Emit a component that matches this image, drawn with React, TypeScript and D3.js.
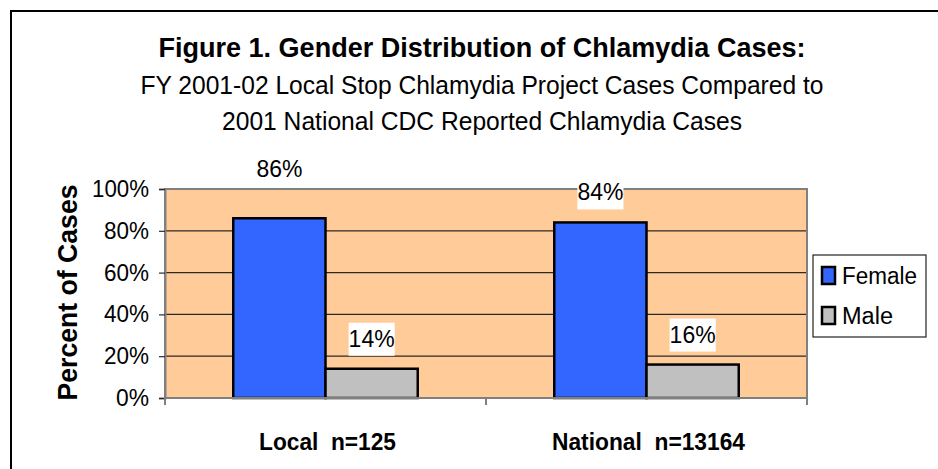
import React, { useRef, useEffect } from 'react';
import * as d3 from "d3";

const width = 938;
const height = 469;
const margin = ({top: 189, right: 131, bottom: 71, left: 165});
const font = "'Liberation Sans', Arial, sans-serif";

// chart data
const categories = ["Local  n=125", "National  n=13164"];
const seriesNames = ["Female", "Male"];
const female = [0.86, 0.84];
const male = [0.14, 0.16];
const yTicks = [0, 0.2, 0.4, 0.6, 0.8, 1];
const title = "Figure 1. Gender Distribution of Chlamydia Cases:";
const subtitle = [
    "FY 2001-02 Local Stop Chlamydia Project Cases Compared to",
    "2001 National CDC Reported Chlamydia Cases"
];
const yLabel = "Percent of Cases";

const colors = ["#3366ff", "#c0c0c0"];
// the first data label was dragged up in the original chart
const labelLift = [[19, 0], [0, 0]];
// the original text is set a little condensed: squeeze to these widths
const subtitleWidths = [683, 520];
const categoryWidths = [137, 193];

export default function App() {
    const d3Container = useRef(null);

    useEffect(() => {
        if (!d3Container.current) return;
        const svg = d3.select(d3Container.current);
        svg.selectAll("*").remove();

        const values = [female, male];
        const data = categories.map((c, i) => ({
            category: c,
            bars: seriesNames.map((s, j) => ({series: s, value: values[j][i], j}))
        }));

        const x0 = d3.scaleBand()
            .domain(categories)
            .range([margin.left, width - margin.right])
            .paddingInner(0)
            .paddingOuter(0);

        const x1 = d3.scaleBand()
            .domain(seriesNames)
            .range([0, x0.bandwidth()])
            .paddingInner(0)
            .paddingOuter(0.74);

        const y = d3.scaleLinear()
            .domain([0, 1])
            .range([height - margin.bottom, margin.top]);

        const plotL = margin.left, plotR = width - margin.right;
        const plotT = margin.top, plotB = height - margin.bottom;

        svg.append("rect")
            .attr("width", width).attr("height", height)
            .attr("fill", "#fff");

        // outer chart border (runs off the right/bottom of the image)
        svg.append("rect")
            .attr("x", 11).attr("y", 11)
            .attr("width", width + 20).attr("height", height + 20)
            .attr("fill", "none")
            .attr("stroke", "#000")
            .attr("stroke-width", 2);

        // titles
        svg.append("text")
            .attr("x", 482).attr("y", 57)
            .attr("text-anchor", "middle")
            .attr("font-family", font)
            .attr("font-weight", "bold")
            .attr("font-size", 28.5)
            .attr("textLength", 647)
            .attr("lengthAdjust", "spacingAndGlyphs")
            .text(title);

        svg.selectAll(".sub")
            .data(subtitle)
            .join("text")
            .attr("class", "sub")
            .attr("x", 482)
            .attr("y", (d, i) => 94 + i * 36)
            .attr("text-anchor", "middle")
            .attr("font-family", font)
            .attr("font-size", 26.5)
            .attr("textLength", (d, i) => subtitleWidths[i])
            .attr("lengthAdjust", "spacingAndGlyphs")
            .text(d => d);

        // plot area
        svg.append("rect")
            .attr("x", plotL).attr("y", plotT)
            .attr("width", plotR - plotL).attr("height", plotB - plotT)
            .attr("fill", "#ffcc99");

        svg.append("g")
            .selectAll("line")
            .data(yTicks.filter(t => t > 0 && t < 1))
            .join("line")
            .attr("x1", plotL).attr("x2", plotR)
            .attr("y1", d => y(d)).attr("y2", d => y(d))
            .attr("stroke", "#2a2a2a")
            .attr("stroke-width", 1.2);

        svg.append("path")
            .attr("d", `M${plotL},${plotB}V${plotT}H${plotR}V${plotB}`)
            .attr("fill", "none")
            .attr("stroke", "#808080")
            .attr("stroke-width", 2);

        // y axis
        const yAxis = g => g
            .attr("transform", `translate(${plotL},0)`)
            .call(d3.axisLeft(y).tickValues(yTicks).tickFormat(d3.format(".0%")).tickSize(6).tickPadding(10))
            .call(g => g.select(".domain").attr("stroke", "#808080").attr("stroke-width", 2))
            .call(g => g.selectAll(".tick line").attr("stroke", "#2a2a2a").attr("stroke-width", 1.2))
            .call(g => g.selectAll(".tick text")
                .attr("fill", "#000")
                .attr("font-family", font)
                .attr("font-size", 23.5)
                .attr("textLength", d => d === 1 ? 57 : d === 0 ? 33 : 45)
                .attr("lengthAdjust", "spacingAndGlyphs"));
        svg.append("g").call(yAxis);

        svg.append("text")
            .attr("transform", `translate(77,${(plotT + plotB) / 2 - 1}) rotate(-90)`)
            .attr("text-anchor", "middle")
            .attr("font-family", font)
            .attr("font-weight", "bold")
            .attr("font-size", 27)
            .attr("textLength", 216)
            .attr("lengthAdjust", "spacingAndGlyphs")
            .text(yLabel);

        // bars
        const groups = svg.append("g")
            .selectAll("g")
            .data(data)
            .join("g")
            .attr("transform", d => `translate(${x0(d.category)},0)`);

        groups.selectAll("rect")
            .data(d => d.bars)
            .join("rect")
            .attr("x", d => x1(d.series))
            .attr("y", d => y(d.value))
            .attr("width", x1.bandwidth())
            .attr("height", d => y(0) - y(d.value))
            .attr("fill", d => colors[d.j])
            .attr("stroke", "#000")
            .attr("stroke-width", 2.5);

        // x axis
        svg.append("line")
            .attr("x1", plotL).attr("x2", plotR)
            .attr("y1", plotB).attr("y2", plotB)
            .attr("stroke", "#808080")
            .attr("stroke-width", 2);

        svg.append("g")
            .selectAll("line")
            .data([...categories.map(c => x0(c)), plotR])
            .join("line")
            .attr("x1", d => d).attr("x2", d => d)
            .attr("y1", plotB).attr("y2", plotB + 7)
            .attr("stroke", "#808080")
            .attr("stroke-width", 2);

        svg.append("g")
            .selectAll("text")
            .data(categories)
            .join("text")
            .attr("x", d => x0(d) + x0.bandwidth() / 2 + 2)
            .attr("y", 450)
            .attr("text-anchor", "middle")
            .attr("font-family", font)
            .attr("font-weight", "bold")
            .attr("font-size", 24)
            .attr("textLength", (d, i) => categoryWidths[i])
            .attr("lengthAdjust", "spacingAndGlyphs")
            .style("white-space", "pre")
            .text(d => d);

        // data labels with white boxes
        data.forEach((d, i) => {
            d.bars.forEach(b => {
                const cx = x0(d.category) + x1(b.series) + x1.bandwidth() / 2;
                const by = y(b.value) - 22 - labelLift[i][b.j];
                const lg = svg.append("g");
                const box = lg.append("rect").attr("fill", "#fff");
                const t = lg.append("text")
                    .attr("x", cx).attr("y", by)
                    .attr("text-anchor", "middle")
                    .attr("font-family", font)
                    .attr("font-size", 23.5)
                    .attr("textLength", 46)
                    .attr("lengthAdjust", "spacingAndGlyphs")
                    .text(d3.format(".0%")(b.value));
                const bb = t.node().getBBox();
                box.attr("x", bb.x).attr("y", by - 24)
                    .attr("width", bb.width).attr("height", 33);
            });
        });

        // legend
        const legend = svg.append("g");
        legend.append("rect")
            .attr("x", 813).attr("y", 255)
            .attr("width", 113).attr("height", 82)
            .attr("fill", "#fff")
            .attr("stroke", "#222")
            .attr("stroke-width", 1.2);

        const items = legend.selectAll("g")
            .data(seriesNames)
            .join("g")
            .attr("transform", (d, i) => `translate(822,${267 + i * 40})`);

        items.append("rect")
            .attr("width", 13).attr("height", 17)
            .attr("fill", (d, i) => colors[i])
            .attr("stroke", "#000")
            .attr("stroke-width", 2.5);

        items.append("text")
            .attr("x", 20).attr("y", 17)
            .attr("font-family", font)
            .attr("font-size", 23.5)
            .attr("textLength", (d, i) => i === 0 ? 75 : 51)
            .attr("lengthAdjust", "spacingAndGlyphs")
            .text(d => d);
    }, []);

    return (
        <svg ref={d3Container} width={width} height={height}
            style={{position: "absolute", left: 0, top: 0}} />
    );
}
